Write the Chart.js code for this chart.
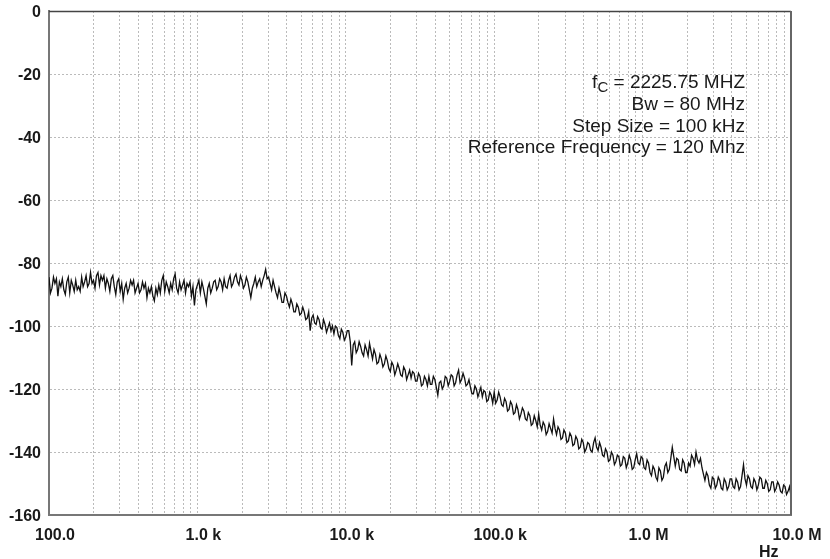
<!DOCTYPE html>
<html>
<head>
    <title>Phase Noise</title>
    <script src="https://cdn.jsdelivr.net/npm/chart.js"></script>
    <style>
        body {
            margin: 0;
            background: #ffffff;
        }
        canvas {
            display: block;
        }
    </style>
</head>
<body>
    <canvas id="noiseChart" width="830" height="559"></canvas>

    <script>
        // 100 readings per decade: frequency = decade start * step, then decade start * halfStep
        const decadeSteps = [1.000, 1.047, 1.096, 1.148, 1.202, 1.259, 1.318, 1.380, 1.445, 1.514,
                             1.585, 1.660, 1.738, 1.820, 1.905, 1.995, 2.089, 2.188, 2.291, 2.399,
                             2.512, 2.630, 2.754, 2.884, 3.020, 3.162, 3.311, 3.467, 3.631, 3.802,
                             3.981, 4.169, 4.365, 4.571, 4.786, 5.012, 5.248, 5.495, 5.754, 6.026,
                             6.310, 6.607, 6.918, 7.244, 7.586, 7.943, 8.318, 8.710, 9.120, 9.550];
        const decadeHalfSteps = [1.023, 1.072, 1.122, 1.175, 1.230, 1.288, 1.349, 1.413, 1.479, 1.549,
                                 1.622, 1.698, 1.778, 1.862, 1.950, 2.042, 2.138, 2.239, 2.344, 2.455,
                                 2.570, 2.692, 2.818, 2.951, 3.090, 3.236, 3.388, 3.548, 3.715, 3.890,
                                 4.074, 4.266, 4.467, 4.677, 4.898, 5.129, 5.370, 5.623, 5.888, 6.166,
                                 6.457, 6.761, 7.079, 7.413, 7.762, 8.128, 8.511, 8.913, 9.333, 9.772];
        const decades = [100, 1000, 10000, 100000, 1000000];

        // phase noise (dBc/Hz), one array per decade, at decadeSteps
        const noise100Hz = [-84.5, -88, -86.5, -90.5, -87.5, -88.5, -86, -89.5, -87, -85.5,
                            -87.5, -84.5, -86, -87.5, -83, -85.5, -84, -87, -85.5, -88,
                            -86.5, -85, -87.5, -86, -89, -91.5, -86.5, -88, -87, -89.5,
                            -86.5, -88.5, -88, -91, -89.5, -90.5, -88, -87, -85.5, -89,
                            -87.5, -86.5, -85, -88, -86, -87, -89.5, -87.5, -90.5, -93.5];
        const noise1kHz = [-87, -89.5, -88, -93, -86.5, -88, -85.5, -87.5, -86, -85,
                           -88, -84, -86.5, -83.5, -87, -85.5, -87, -86, -91, -86.5,
                           -87.5, -85, -85.5, -82, -84.5, -88.5, -87.5, -91, -90, -92.5,
                           -90.5, -94, -93, -95.5, -94, -96, -95.5, -97.5, -101.5, -96.5,
                           -99.5, -98, -101, -99.5, -100.5, -101.5, -102.5, -100.5, -104, -102];
        const noise10kHz = [-103.5, -101.5, -112.5, -105, -107.5, -106.5, -109.5, -107.5, -105.5, -110.5,
                            -109, -111.5, -110.5, -112, -111, -114.5, -112.5, -114, -113.5, -116,
                            -114, -115.5, -116.5, -115, -117.5, -116, -118.5, -117, -116, -118.5,
                            -117, -122, -117.5, -119, -116.5, -117.5, -116, -118, -114, -117,
                            -116.5, -118.5, -119.5, -121.5, -120, -121, -122.5, -121, -123.5, -122];
        const noise100kHz = [-121, -123.5, -122.5, -125.5, -124, -126.5, -125, -127.5, -126.5, -128,
                             -127, -130, -128.5, -131, -130, -128, -133, -131.5, -133.5, -132.5,
                             -129.5, -134.5, -133, -135.5, -134, -136.5, -135, -137.5, -136, -138.5,
                             -137, -139, -137.5, -140, -135.5, -139.5, -138.5, -141.5, -140, -142.5,
                             -141, -143, -141.5, -144, -142, -143.5, -142.5, -145, -140.5, -144];
        const noise1MHz = [-142, -145.5, -143.5, -147.5, -145.5, -149, -146, -148, -143.5, -145.5,
                           -138.5, -144.5, -142.5, -146, -143.5, -146.5, -144.5, -142, -140, -143.5,
                           -145, -149, -147.5, -151.5, -148.5, -150.5, -149, -152, -149.5, -151,
                           -148.5, -151.5, -149.5, -151, -144, -150.5, -148.5, -151.5, -149.5, -150.5,
                           -148.5, -151.5, -150, -152, -149.5, -151.5, -150.5, -153, -151, -152.5];

        // readings at decadeHalfSteps
        const noise100HzHalf = [-89.5, -84.5, -85, -86, -85, -90, -84.5, -85.5, -89, -88.5,
                                -89, -87.5, -84, -86.5, -86.5, -88, -83, -84, -84, -85,
                                -89, -84, -90, -85, -86.5, -88, -89.5, -85.5, -85.5, -88,
                                -89.5, -86, -86.5, -88, -87.5, -92, -90, -89.5, -84, -86,
                                -89.5, -88.5, -83.5, -89.5, -88.5, -85.5, -86.5, -86, -87.5, -88.5];
        const noise1kHzHalf = [-85.5, -86, -90.5, -88, -89.5, -86, -88.5, -85, -88.5, -87.5,
                               -85.5, -87.5, -84.5, -86, -84, -88, -84.5, -88.5, -88, -84.5,
                               -86, -87.5, -84, -85, -86.5, -85.5, -89.5, -88, -92.5, -89.5,
                               -92.5, -91.5, -95.5, -93, -96.5, -94, -98, -95.5, -97.5, -99,
                               -97, -100.5, -98, -102, -99, -100, -100, -103, -101, -104.5];
        const noise10kHzHalf = [-101.5, -105, -106, -108.5, -105, -108.5, -106, -109.5, -108, -107.5,
                                -112, -109, -113, -109.5, -113.5, -111.5, -115.5, -112, -115.5, -113,
                                -117, -114, -114.5, -117.5, -115, -119, -116, -119, -118.5, -116,
                                -119.5, -118, -120, -116, -119, -115.5, -119, -115.5, -118, -115,
                                -119, -117, -121.5, -119, -122.5, -119.5, -120.5, -124, -121, -124.5];
        const noise100kHzHalf = [-124.5, -121, -125, -123, -127, -124, -128, -125, -129.5, -126,
                                 -129.5, -127.5, -131.5, -128.5, -132, -131.5, -130.5, -134.5, -131, -134,
                                 -132.5, -132, -136, -133, -137, -134, -138, -135, -139, -136,
                                 -140, -137, -139.5, -137, -138.5, -137, -141, -139, -143, -140,
                                 -144, -141, -144.5, -141.5, -145, -141, -145.5, -142.5, -143.5, -141.5];
        const noise1MHzHalf = [-145, -142.5, -146.5, -144.5, -148, -145, -149, -144.5, -146.5, -142,
                               -141.5, -142, -145.5, -142.5, -146.5, -143.5, -141, -144, -142.5, -142,
                               -147, -146.5, -150.5, -148, -151.5, -148, -151.5, -148.5, -152, -148.5,
                               -151, -148.5, -152, -147.5, -148.5, -147.5, -151, -148.5, -152, -148,
                               -151.5, -149, -152.5, -149.5, -152.5, -149.5, -152.5, -150.5, -153.5, -151];
        const endFreq = 10000000;
        const endNoise = -154;

        const gridMultiples = [1, 2, 3, 4, 5, 6, 7, 8, 9];
        const decadeTicks = [100, 1000, 10000, 100000, 1000000, 10000000];
        const xTickLabels = ['100.0', '1.0 k', '10.0 k', '100.0 k', '1.0 M', '10.0 M'];
        const yTicks = [0, -20, -40, -60, -80, -100, -120, -140, -160];

        const infoLines = ['Bw = 80 MHz', 'Step Size = 100 kHz', 'Reference Frequency = 120 Mhz'];
        const fcValue = ' = 2225.75 MHZ';

        const mainByDecade = [noise100Hz, noise1kHz, noise10kHz, noise100kHz, noise1MHz];
        const halfByDecade = [noise100HzHalf, noise1kHzHalf, noise10kHzHalf, noise100kHzHalf, noise1MHzHalf];

        const tracePoints = [];
        decades.forEach((d, k) => {
            decadeSteps.forEach((m, i) => {
                tracePoints.push({ x: d * m, y: mainByDecade[k][i] });
                tracePoints.push({ x: d * decadeHalfSteps[i], y: halfByDecade[k][i] });
            });
        });
        tracePoints.push({ x: endFreq, y: endNoise });

        const gridFreqs = decades.flatMap(d => gridMultiples.map(m => d * m)).concat([endFreq]);

        const FONT = '"Liberation Sans", Arial, Helvetica, sans-serif';

        const framePlugin = {
            id: 'frame',
            afterDraw(chart) {
                const ctx = chart.ctx;
                const a = chart.chartArea;
                ctx.save();
                // top and right edge of the plot box
                ctx.strokeStyle = '#444';
                ctx.lineWidth = 1.5;
                ctx.beginPath();
                ctx.moveTo(a.left, a.top + 0.5);
                ctx.lineTo(a.right, a.top + 0.5);
                ctx.stroke();
                ctx.strokeStyle = '#666';
                ctx.lineWidth = 2;
                ctx.beginPath();
                ctx.moveTo(a.right, a.top);
                ctx.lineTo(a.right, a.bottom);
                ctx.stroke();

                // settings text, right aligned
                ctx.fillStyle = '#1a1a1a';
                ctx.textBaseline = 'alphabetic';
                ctx.textAlign = 'right';
                ctx.font = '19px ' + FONT;
                const right = 745;
                ctx.fillText(fcValue, right, 88);
                let x = right - ctx.measureText(fcValue).width;
                ctx.font = '15px ' + FONT;
                ctx.fillText('C', x, 92);
                x -= ctx.measureText('C').width;
                ctx.font = '19px ' + FONT;
                ctx.fillText('f', x, 88);
                infoLines.forEach((line, i) => {
                    ctx.fillText(line, right, 110 + i * 21.6);
                });

                // unit under the x axis
                ctx.font = 'bold 16px ' + FONT;
                ctx.textAlign = 'left';
                ctx.fillText('Hz', 759, 557);
                ctx.restore();
            }
        };

        new Chart(document.getElementById('noiseChart'), {
            type: 'line',
            data: {
                datasets: [{
                    label: 'Phase Noise',
                    data: tracePoints,
                    borderColor: '#111',
                    borderWidth: 1.3,
                    pointRadius: 0,
                    tension: 0,
                    fill: false
                }]
            },
            options: {
                responsive: false,
                animation: false,
                devicePixelRatio: 1,
                layout: { padding: { top: 11, right: 39, left: 0, bottom: 0 } },
                plugins: {
                    legend: { display: false },
                    tooltip: { enabled: false }
                },
                scales: {
                    x: {
                        type: 'logarithmic',
                        min: 100,
                        max: 10000000,
                        afterFit: scale => {
                            scale.height = 44;
                            scale.paddingLeft = 0;
                            scale.paddingRight = 0;
                        },
                        afterBuildTicks: scale => {
                            scale.ticks = gridFreqs.map(v => ({ value: v }));
                        },
                        grid: {
                            color: '#bbbbbb',
                            lineWidth: 1,
                            drawTicks: false
                        },
                        border: { display: true, color: '#777', width: 2, dash: [2, 2] },
                        ticks: {
                            autoSkip: false,
                            maxRotation: 0,
                            padding: 11,
                            labelOffset: 6,
                            color: '#1a1a1a',
                            font: { family: FONT, size: 16, weight: 'bold' },
                            callback: value => {
                                const k = decadeTicks.indexOf(value);
                                return k >= 0 ? xTickLabels[k] : '';
                            }
                        }
                    },
                    y: {
                        min: -160,
                        max: 0,
                        afterFit: scale => {
                            scale.width = 49;
                            scale.paddingTop = 0;
                            scale.paddingBottom = 0;
                        },
                        afterBuildTicks: scale => {
                            scale.ticks = yTicks.map(v => ({ value: v }));
                        },
                        grid: {
                            color: '#bbbbbb',
                            lineWidth: 1,
                            drawTicks: false
                        },
                        border: { display: true, color: '#777', width: 2, dash: [2, 2] },
                        ticks: {
                            padding: 8,
                            labelOffset: 2,
                            color: '#1a1a1a',
                            font: { family: FONT, size: 16, weight: 'bold' }
                        }
                    }
                }
            },
            plugins: [framePlugin]
        });
    </script>
</body>
</html>
